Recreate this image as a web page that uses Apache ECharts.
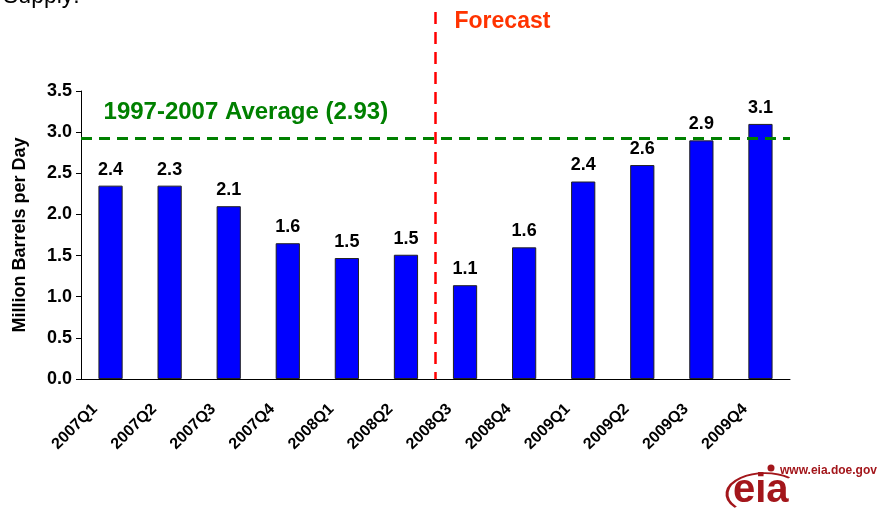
<!DOCTYPE html>
<html>
<head>
<meta charset="utf-8">
<script src="https://cdn.jsdelivr.net/npm/echarts@6/dist/echarts.min.js"></script>
<style>html,body{margin:0;padding:0;background:#fff;}#c{width:878px;height:517px;}</style>
</head>
<body>
<div id="c"></div>
<script>
const categories = ['2007Q1','2007Q2','2007Q3','2007Q4','2008Q1','2008Q2','2008Q3','2008Q4','2009Q1','2009Q2','2009Q3','2009Q4'];
const values = [2.35, 2.35, 2.1, 1.65, 1.47, 1.51, 1.14, 1.6, 2.4, 2.6, 2.9, 3.1];
const valueLabels = ['2.4','2.3','2.1','1.6','1.5','1.5','1.1','1.6','2.4','2.6','2.9','3.1'];
const averageValue = 2.93;
const averageText = '1997-2007 Average (2.93)';
const forecastStartIndex = 6;
const yTicks = { min: 0, max: 3.5, interval: 0.5 };

const chart = echarts.init(document.getElementById('c'));
const font = 'Arial, "Liberation Sans", sans-serif';
const darkRed = '#a3161b';
chart.setOption({
  animation: false,
  backgroundColor: '#fff',
  title: {
    text: 'Supply:', left: -2, top: -20,
    textStyle: { fontFamily: font, fontSize: 23, fontWeight: 'normal', color: '#000' }
  },
  grid: { left: 81, right: 88, top: 91, bottom: 138 },
  xAxis: {
    type: 'category', data: categories,
    axisLine: { lineStyle: { color: '#000', width: 1 } },
    axisTick: { show: false },
    axisLabel: { rotate: 45, margin: 12, padding: [35, 22, 0, 0], color: '#000', fontFamily: font, fontWeight: 'bold', fontSize: 16, interval: 0 }
  },
  yAxis: {
    type: 'value', min: yTicks.min, max: yTicks.max, interval: yTicks.interval,
    name: 'Million Barrels per Day', nameLocation: 'middle', nameGap: 52, nameRotate: 90,
    nameTextStyle: { fontFamily: font, fontWeight: 'bold', fontSize: 18, color: '#000' },
    axisLine: { show: true, lineStyle: { color: '#000', width: 1 } },
    axisTick: { show: true, length: 5, lineStyle: { color: '#000' } },
    splitLine: { show: false },
    axisLabel: { color: '#000', fontFamily: font, fontWeight: 'bold', fontSize: 18, margin: 9,
      formatter: v => v.toFixed(1) }
  },
  series: [{
    type: 'bar', data: values, barWidth: '41%',
    itemStyle: { color: '#0000ff', borderColor: '#222', borderWidth: 1 },
    label: { show: true, position: 'top', distance: 7, color: '#000', fontFamily: font, fontWeight: 'bold', fontSize: 18,
      formatter: p => valueLabels[p.dataIndex] },
    markLine: {
      silent: true, symbol: 'none',
      lineStyle: { color: '#008000', type: [11, 7], width: 3 },
      label: { show: false },
      data: [{ yAxis: averageValue }]
    }
  }]
});

function drawOverlay() {
  const xa = chart.convertToPixel({ xAxisIndex: 0 }, forecastStartIndex - 1);
  const xb = chart.convertToPixel({ xAxisIndex: 0 }, forecastStartIndex);
  const x = (xa + xb) / 2;
  const y0 = chart.convertToPixel({ yAxisIndex: 0 }, 0);
  const yAvg = chart.convertToPixel({ yAxisIndex: 0 }, averageValue);
  const x0 = chart.convertToPixel({ xAxisIndex: 0 }, 0);
  chart.setOption({
    graphic: [
      { type: 'line', shape: { x1: x, y1: 12, x2: x, y2: y0 },
        style: { stroke: '#ff0000', lineWidth: 2.5, lineDash: [12, 8] }, z: 10 },
      { type: 'text', left: x + 19, top: 10,
        style: { text: 'Forecast', fill: '#ff3300', font: 'bold 23px ' + font } },
      { type: 'text', left: x0 - 7, top: yAvg - 38,
        style: { text: averageText, fill: '#008000', font: 'bold 24px ' + font } },
      { type: 'text', left: 780, top: 465, style: { text: 'www.eia.doe.gov', fill: darkRed, font: 'bold 12px ' + font } },
      { type: 'circle', shape: { cx: 771, cy: 468, r: 3.5 }, style: { fill: darkRed } },
      { type: 'arc', shape: { cx: 765, cy: 494, r: 38, startAngle: Math.PI * 0.78, endAngle: Math.PI * 1.72 },
        style: { stroke: darkRed, lineWidth: 3, fill: null }, scaleY: 0.55, originX: 765, originY: 494 },
      { type: 'text', left: 733, top: 471, style: { text: 'eia', fill: darkRed, font: 'bold 40px ' + font } }
    ]
  });
}
drawOverlay();
</script>
</body>
</html>
